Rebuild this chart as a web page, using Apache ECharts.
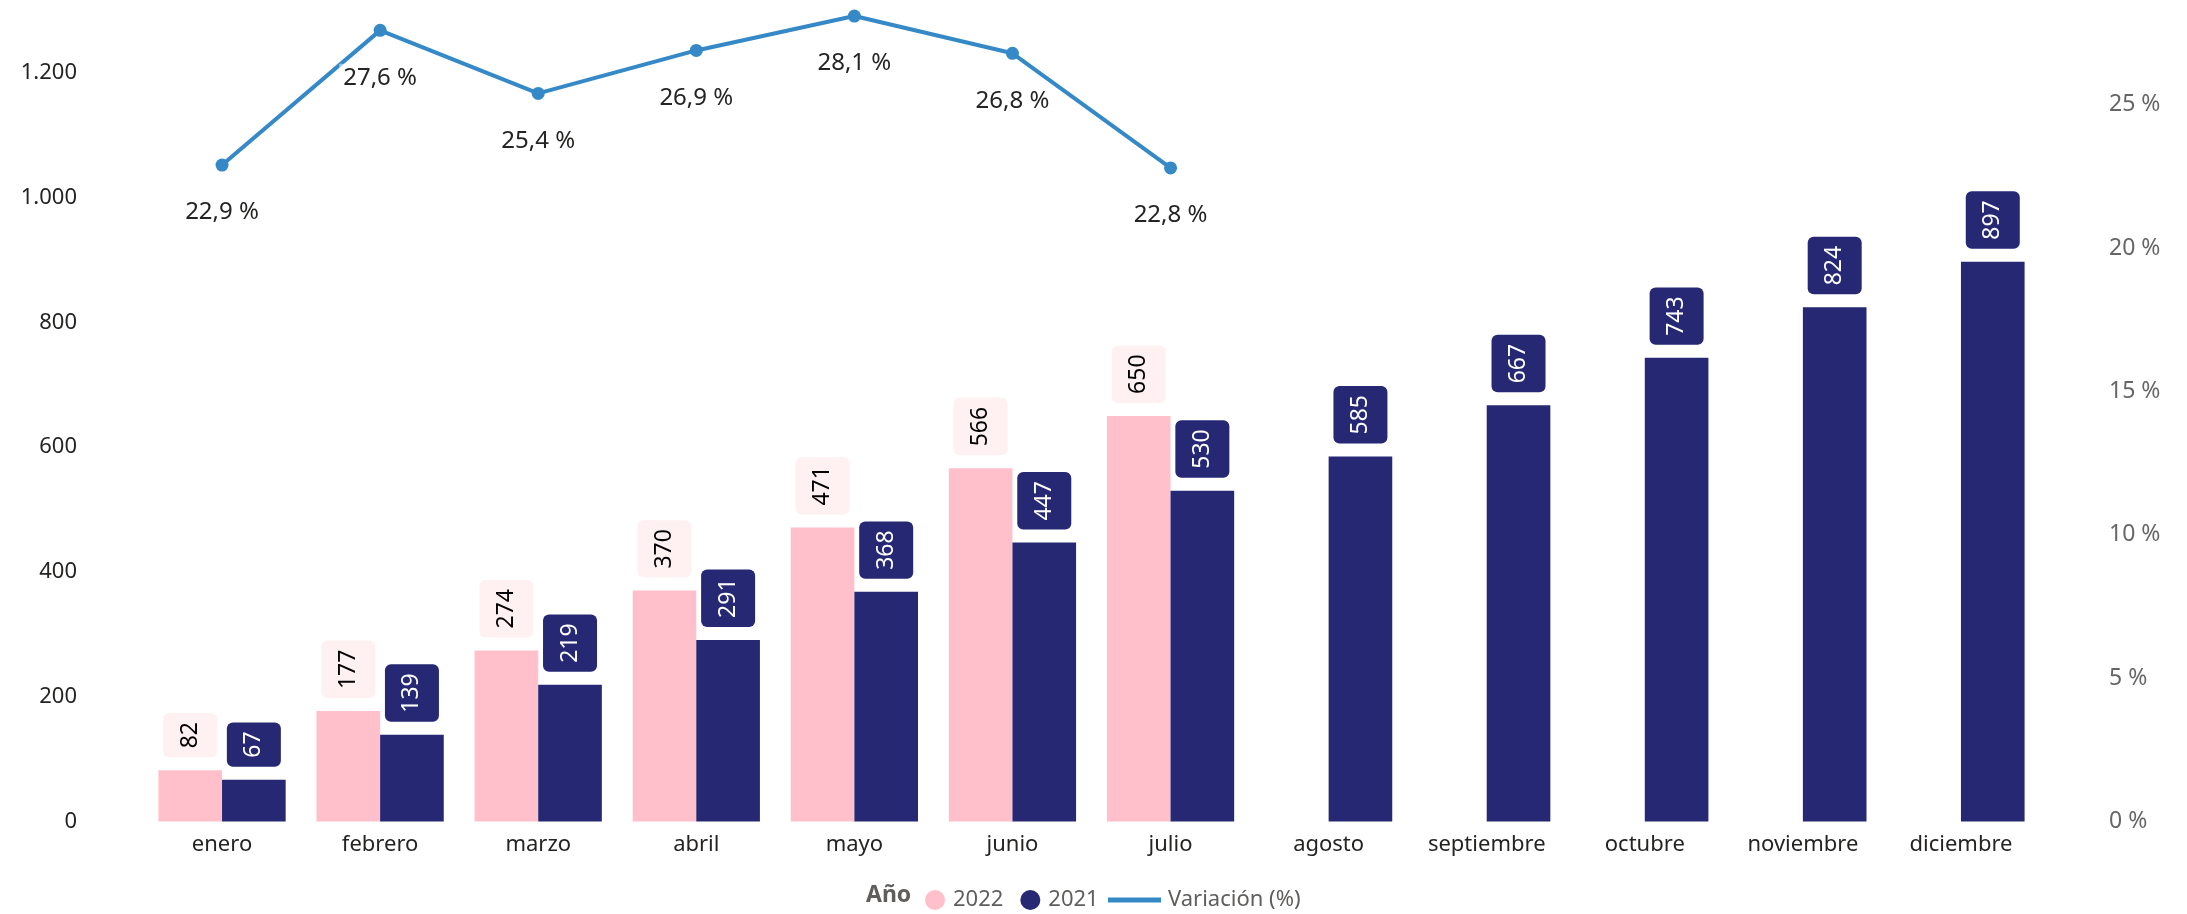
<!DOCTYPE html>
<html>
<head>
<meta charset="utf-8">
<script src="https://cdn.jsdelivr.net/npm/echarts@6/dist/echarts.min.js"></script>
<style>
html,body{margin:0;padding:0;background:#fff;}
#chart{width:2187px;height:914px;}
</style>
</head>
<body>
<div id="chart"></div>
<script>
const categories = ['enero','febrero','marzo','abril','mayo','junio','julio','agosto','septiembre','octubre','noviembre','diciembre'];
const values2022 = [82, 177, 274, 370, 471, 566, 650, null, null, null, null, null];
const values2021 = [67, 139, 219, 291, 368, 447, 530, 585, 667, 743, 824, 897];
const variacion = [22.9, 27.6, 25.4, 26.9, 28.1, 26.8, 22.8, null, null, null, null, null];
const leftTicks = [0, 200, 400, 600, 800, 1000, 1200];
const rightTicks = [0, 5, 10, 15, 20, 25];

const FONT = '"Noto Sans", sans-serif';
const PINK = '#FFC0CB';
const NAVY = '#262874';
const LINE = '#3489C6';

function fmtThousands(v){
  return String(v).replace(/\B(?=(\d{3})+(?!\d))/g, '.');
}

const chart = echarts.init(document.getElementById('chart'));
const barLabel = (bg, color) => ({
  show: true,
  position: 'top',
  rotate: 90,
  align: 'left',
  verticalAlign: 'middle',
  distance: 13,
  fontFamily: FONT,
  fontSize: 23,
  lineHeight: 30,
  color: color,
  backgroundColor: bg,
  borderRadius: 6,
  padding: [12, 9]
});

chart.setOption({
  animation: false,
  backgroundColor: '#ffffff',
  grid: { left: 143, right: 147, top: 10.3, bottom: 92.5 },
  xAxis: {
    type: 'category',
    data: categories,
    axisLine: { show: false },
    axisTick: { show: false },
    axisLabel: { color: '#252423', fontFamily: FONT, fontSize: 22, margin: 12 }
  },
  yAxis: [
    {
      type: 'value', min: leftTicks[0], max: 1300, interval: leftTicks[1] - leftTicks[0],
      splitLine: { show: false }, axisLine: { show: false }, axisTick: { show: false },
      axisLabel: { showMaxLabel: false, color: '#252423', fontFamily: FONT, fontSize: 22, margin: 66,
        formatter: v => fmtThousands(v) }
    },
    {
      type: 'value', min: rightTicks[0], max: 28.3, interval: rightTicks[1] - rightTicks[0],
      splitLine: { show: false }, axisLine: { show: false }, axisTick: { show: false },
      axisLabel: { showMaxLabel: false, color: '#666666', fontFamily: FONT, fontSize: 23, margin: 69,
        formatter: v => v + ' %' }
    }
  ],
  legend: [
    {
      left: 920, top: 884, icon: 'circle', itemWidth: 20, itemHeight: 20, itemGap: 17,
      data: ['2022', '2021'],
      textStyle: { color: '#605E5C', fontFamily: FONT, fontSize: 22, padding: [0, 0, 0, 3] }
    },
    {
      left: 1103, top: 884, icon: 'rect', itemWidth: 53, itemHeight: 5,
      data: ['Variación (%)'],
      textStyle: { color: '#605E5C', fontFamily: FONT, fontSize: 22, padding: [0, 0, 0, 2] }
    }
  ],
  graphic: [
    { type: 'text', left: 866, top: 884,
      style: { text: 'Año', fill: '#605E5C', font: 'bold 23px "Noto Sans", sans-serif' } }
  ],
  series: [
    {
      name: '2022', type: 'bar', data: values2022, yAxisIndex: 0,
      barGap: '0%', barCategoryGap: '19.5%',
      itemStyle: { color: PINK },
      label: barLabel('#FFF0F2', '#000000')
    },
    {
      name: '2021', type: 'bar', data: values2021, yAxisIndex: 0,
      itemStyle: { color: NAVY },
      label: barLabel(NAVY, '#ffffff')
    },
    {
      name: 'Variación (%)', type: 'line', data: variacion, yAxisIndex: 1,
      symbol: 'circle', symbolSize: 13,
      lineStyle: { color: LINE, width: 4 },
      itemStyle: { color: LINE },
      z: 5,
      label: {
        show: true, position: 'bottom', distance: 27,
        fontFamily: FONT, fontSize: 24, color: '#252423',
        backgroundColor: 'rgba(255,255,255,0.5)', padding: [2, 4],
        formatter: p => String(p.value.toFixed(1)).replace('.', ',') + ' %'
      }
    }
  ]
});
</script>
</body>
</html>
